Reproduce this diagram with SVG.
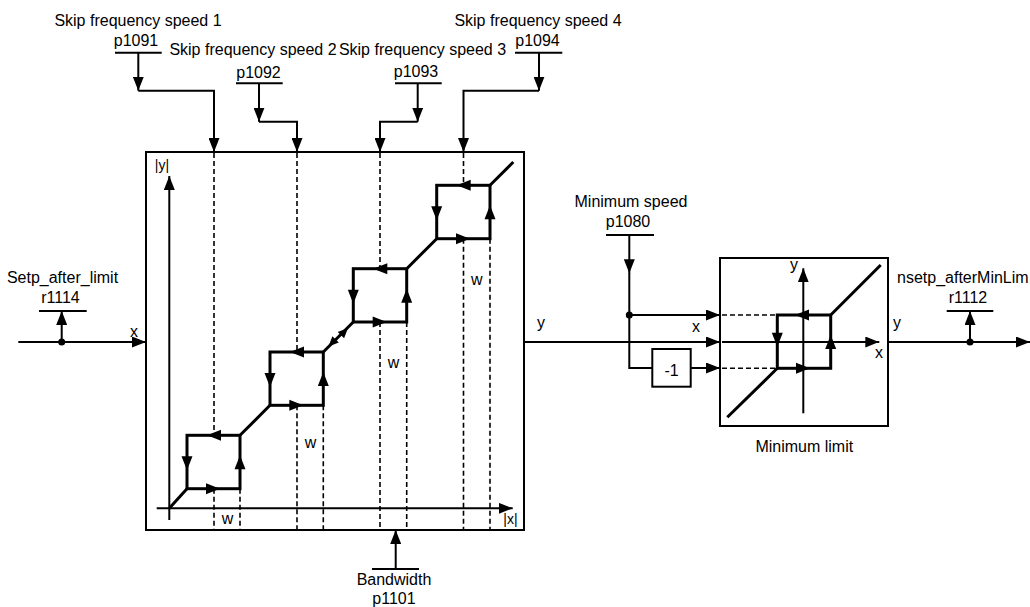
<svg xmlns="http://www.w3.org/2000/svg" width="1030" height="607" viewBox="0 0 1030 607">
<defs>
<marker id="arr" markerWidth="14" markerHeight="11" refX="14" refY="5.5" orient="auto" markerUnits="userSpaceOnUse"><path d="M0,0 L14,5.5 L0,11 Z" fill="#000"/></marker>
<path id="ah" d="M0,0 L-14,-5.5 L-14,5.5 Z" fill="#000"/>
<path id="ahs" d="M0,0 L-10,-4.5 L-10,4.5 Z" fill="#000"/>
</defs>
<style>
text{font-family:"Liberation Sans",Arial,sans-serif;font-size:16px;fill:#000}
.m{text-anchor:middle}
.sm{font-size:14px}
.ln{fill:none;stroke:#000;stroke-width:2}
.a{marker-end:url(#arr)}
.th{fill:none;stroke:#000;stroke-width:3}
.ds{fill:none;stroke:#000;stroke-width:1.6;stroke-dasharray:5,3}
.box{fill:#fff;stroke:#000;stroke-width:2}
.dot{fill:#000}
</style>
<rect width="1030" height="607" fill="#fff"/>

<!-- Skip frequency block -->
<g id="skip-block">
<rect class="box" x="146" y="152" width="378" height="378"/>
<g id="skip-dashed">
<path class="ds" d="M214,153 V435.3 M214,488.7 V529 M240,488.7 V529"/>
<path class="ds" d="M297,153 V352 M297,405.3 V529 M323.3,405.3 V529"/>
<path class="ds" d="M380,153 V268.7 M380,322 V529 M406.7,322 V529"/>
<path class="ds" d="M463.5,153 V185.3 M463.5,238.7 V529 M490,238.7 V529"/>
</g>
<path class="ln a" d="M169.3,520 V176"/>
<path class="ln a" d="M156.7,508.3 H512.7"/>
<text class="sm" x="162" y="170" text-anchor="middle">|y|</text>
<text class="sm" x="510.5" y="524" text-anchor="middle">|x|</text>
<g id="hyst-curve">
<path class="th" d="M169.3,508.3 L187,488.7 M240,435.3 L270,405.3 M323.3,352 L353.3,322 M406.7,268.7 L436.7,238.7 M490,185.3 L513.3,162"/>
<rect class="th" x="187" y="435.3" width="53" height="53.4"/>
<rect class="th" x="270" y="352" width="53.3" height="53.3"/>
<rect class="th" x="353.3" y="268.7" width="53.4" height="53.3"/>
<rect class="th" x="436.7" y="185.3" width="53.3" height="53.4"/>
<use href="#ah" transform="translate(207,435.3) rotate(180)"/>
<use href="#ah" transform="translate(187,470.3) rotate(90)"/>
<use href="#ah" transform="translate(220,488.7)"/>
<use href="#ah" transform="translate(240,455.3) rotate(-90)"/>
<use href="#ah" transform="translate(290,352) rotate(180)"/>
<use href="#ah" transform="translate(270,387) rotate(90)"/>
<use href="#ah" transform="translate(303.3,405.3)"/>
<use href="#ah" transform="translate(323.3,372) rotate(-90)"/>
<use href="#ah" transform="translate(373.3,268.7) rotate(180)"/>
<use href="#ah" transform="translate(353.3,303.7) rotate(90)"/>
<use href="#ah" transform="translate(386.7,322)"/>
<use href="#ah" transform="translate(406.7,288.7) rotate(-90)"/>
<use href="#ah" transform="translate(456.7,185.3) rotate(180)"/>
<use href="#ah" transform="translate(436.7,220.3) rotate(90)"/>
<use href="#ah" transform="translate(470,238.7)"/>
<use href="#ah" transform="translate(490,205.3) rotate(-90)"/>
<use href="#ahs" transform="translate(328.5,346.5) rotate(135)"/>
<use href="#ahs" transform="translate(348,328) rotate(-45)"/>
</g>
<text class="m" x="227.5" y="523.5">w</text>
<text class="m" x="310.5" y="448.3">w</text>
<text class="m" x="393.5" y="368">w</text>
<text class="m" x="476.7" y="285">w</text>
</g>

<!-- Parameter nodes -->
<g id="p1091">
<text class="m" x="138" y="26">Skip frequency speed 1</text>
<text class="m" x="136" y="45.7">p1091</text>
<path class="ln" d="M115,52.7 H161.7"/>
</g>
<g id="p1092">
<text class="m" x="253" y="55">Skip frequency speed 2</text>
<text class="m" x="258.5" y="78.3">p1092</text>
<path class="ln" d="M236,83.3 H282.7"/>
</g>
<g id="p1093">
<text class="m" x="422.5" y="55">Skip frequency speed 3</text>
<text class="m" x="416" y="77.3">p1093</text>
<path class="ln" d="M395,83.3 H441.7"/>
</g>
<g id="p1094">
<text class="m" x="538" y="26">Skip frequency speed 4</text>
<text class="m" x="537.5" y="45.7">p1094</text>
<path class="ln" d="M515,52.7 H562.3"/>
</g>
<g id="p1101">
<path class="ln" d="M372,569 H419"/>
<text class="m" x="394" y="585">Bandwidth</text>
<text class="m" x="394" y="603.5">p1101</text>
</g>
<g id="r1114">
<text class="m" x="62.5" y="282.7">Setp_after_limit</text>
<text class="m" x="60.5" y="303.3">r1114</text>
<path class="ln" d="M39,311 H86.7"/>
</g>
<g id="p1080">
<text class="m" x="631" y="207">Minimum speed</text>
<text class="m" x="628" y="227.3">p1080</text>
<path class="ln" d="M606,235 H654"/>
</g>
<g id="r1112">
<text x="897" y="283.3">nsetp_afterMinLim</text>
<text class="m" x="968" y="303.3">r1112</text>
<path class="ln" d="M946.7,311 H993.3"/>
</g>

<!-- Negation block -->
<g id="neg">
<rect class="box" x="652.3" y="349" width="38.4" height="37.7"/>
<text class="m" x="671.5" y="375.5">-1</text>
</g>

<!-- Minimum limit block -->
<g id="min-limit">
<rect class="box" x="720" y="258" width="168" height="168"/>
<path class="ds" d="M722,315 H777.3 M722,368.3 H777.3"/>
<path class="ln a" d="M803.3,413.3 V268.3"/>
<path class="ln a" d="M722,342 H879.3"/>
<path class="th" d="M727.3,417.3 L777.3,368.3 M830.7,315 L880.7,265"/>
<rect class="th" x="777.3" y="315" width="53.4" height="53.3"/>
<use href="#ah" transform="translate(795,315) rotate(180)"/>
<use href="#ah" transform="translate(777.3,346.7) rotate(90)"/>
<use href="#ah" transform="translate(810,368.3)"/>
<use href="#ah" transform="translate(830.7,335) rotate(-90)"/>
<text class="m" x="794" y="270">y</text>
<text class="m" x="879" y="358">x</text>
<text class="m" x="804.3" y="451.7">Minimum limit</text>
</g>

<!-- Connectors -->
<g id="connectors">
<path class="ln a" d="M138.3,52.7 V90.7"/>
<path class="ln a" d="M138.3,90.7 H214 V152"/>
<path class="ln a" d="M259,83.3 V121.7"/>
<path class="ln a" d="M259,121.7 H297 V152"/>
<path class="ln a" d="M417.7,83.3 V121.7"/>
<path class="ln a" d="M417.7,121.7 H380 V152"/>
<path class="ln a" d="M539,52.7 V90.7"/>
<path class="ln a" d="M539,90.7 H463.5 V152"/>
<path class="ln a" d="M395.7,569 V530"/>
<path class="ln a" d="M18.3,342 H146"/>
<circle class="dot" cx="61.7" cy="342" r="3.5"/>
<path class="ln a" d="M61.7,342 V311"/>
<text class="m" x="134" y="336.5">x</text>
<path class="ln a" d="M524,342 H720"/>
<text class="m" x="541" y="328">y</text>
<path class="ln a" d="M629.3,235 V273.3"/>
<path class="ln" d="M629.3,273 V368 H652.3"/>
<circle class="dot" cx="629.3" cy="315" r="3.5"/>
<path class="ln a" d="M629.3,315 H720"/>
<path class="ln a" d="M690.7,368 H720"/>
<text class="m" x="696" y="332">x</text>
<path class="ln a" d="M888,342 H1030"/>
<text class="m" x="897" y="328">y</text>
<circle class="dot" cx="970" cy="342" r="3.5"/>
<path class="ln a" d="M970,342 V311"/>
</g>
</svg>
